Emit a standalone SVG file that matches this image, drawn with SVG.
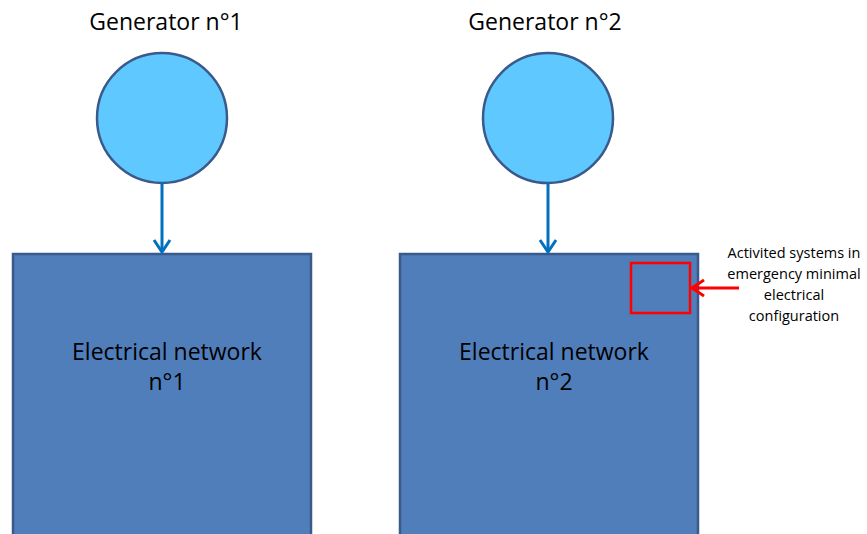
<svg xmlns="http://www.w3.org/2000/svg" width="867" height="534" viewBox="0 0 867 534">
<style>
.t{font-family:"Open Sans","Liberation Sans",sans-serif;fill:#000;text-anchor:middle}
.gen{fill:#5FC8FF;stroke:#3A5A8C;stroke-width:2.5}
.net{fill:#4F7EBB;stroke:#3A5A8C;stroke-width:2.5}
.conn{stroke:#0070C0;stroke-width:3;fill:none}
.red{stroke:#FF0000;stroke-width:3;fill:none}
</style>
<rect width="867" height="534" fill="#fff"/>
<g id="gen1">
<text class="t" x="166" y="30" font-size="23">Generator n°1</text>
<circle class="gen" cx="162" cy="118" r="65"/>
</g>
<g id="gen2">
<text class="t" x="545" y="30" font-size="23">Generator n°2</text>
<circle class="gen" cx="548" cy="118" r="65"/>
</g>
<g id="net1">
<rect class="net" x="13" y="254" width="298" height="290"/>
<text class="t" x="167" y="360" font-size="23">Electrical network</text>
<text class="t" x="167" y="390" font-size="23">n°1</text>
</g>
<g id="net2">
<rect class="net" x="400" y="254" width="298" height="290"/>
<text class="t" x="554" y="360" font-size="23">Electrical network</text>
<text class="t" x="554" y="390" font-size="23">n°2</text>
</g>
<g id="emergency">
<rect x="631" y="263" width="59" height="50" fill="none" stroke="#FF0000" stroke-width="2.5"/>
<g class="t" font-size="14.5">
<text x="794" y="258">Activited systems in</text>
<text x="794" y="279">emergency minimal</text>
<text x="794" y="300">electrical</text>
<text x="794" y="321">configuration</text>
</g>
</g>
<g id="connectors">
<path class="conn" d="M162 183V252"/>
<path class="conn" d="M154 240L162 252L170 240"/>
<path class="conn" d="M548 183V252"/>
<path class="conn" d="M540 240L548 252L556 240"/>
<path class="red" d="M739 288H692"/>
<path class="red" d="M704 280L692 288L704 296"/>
</g>
</svg>
